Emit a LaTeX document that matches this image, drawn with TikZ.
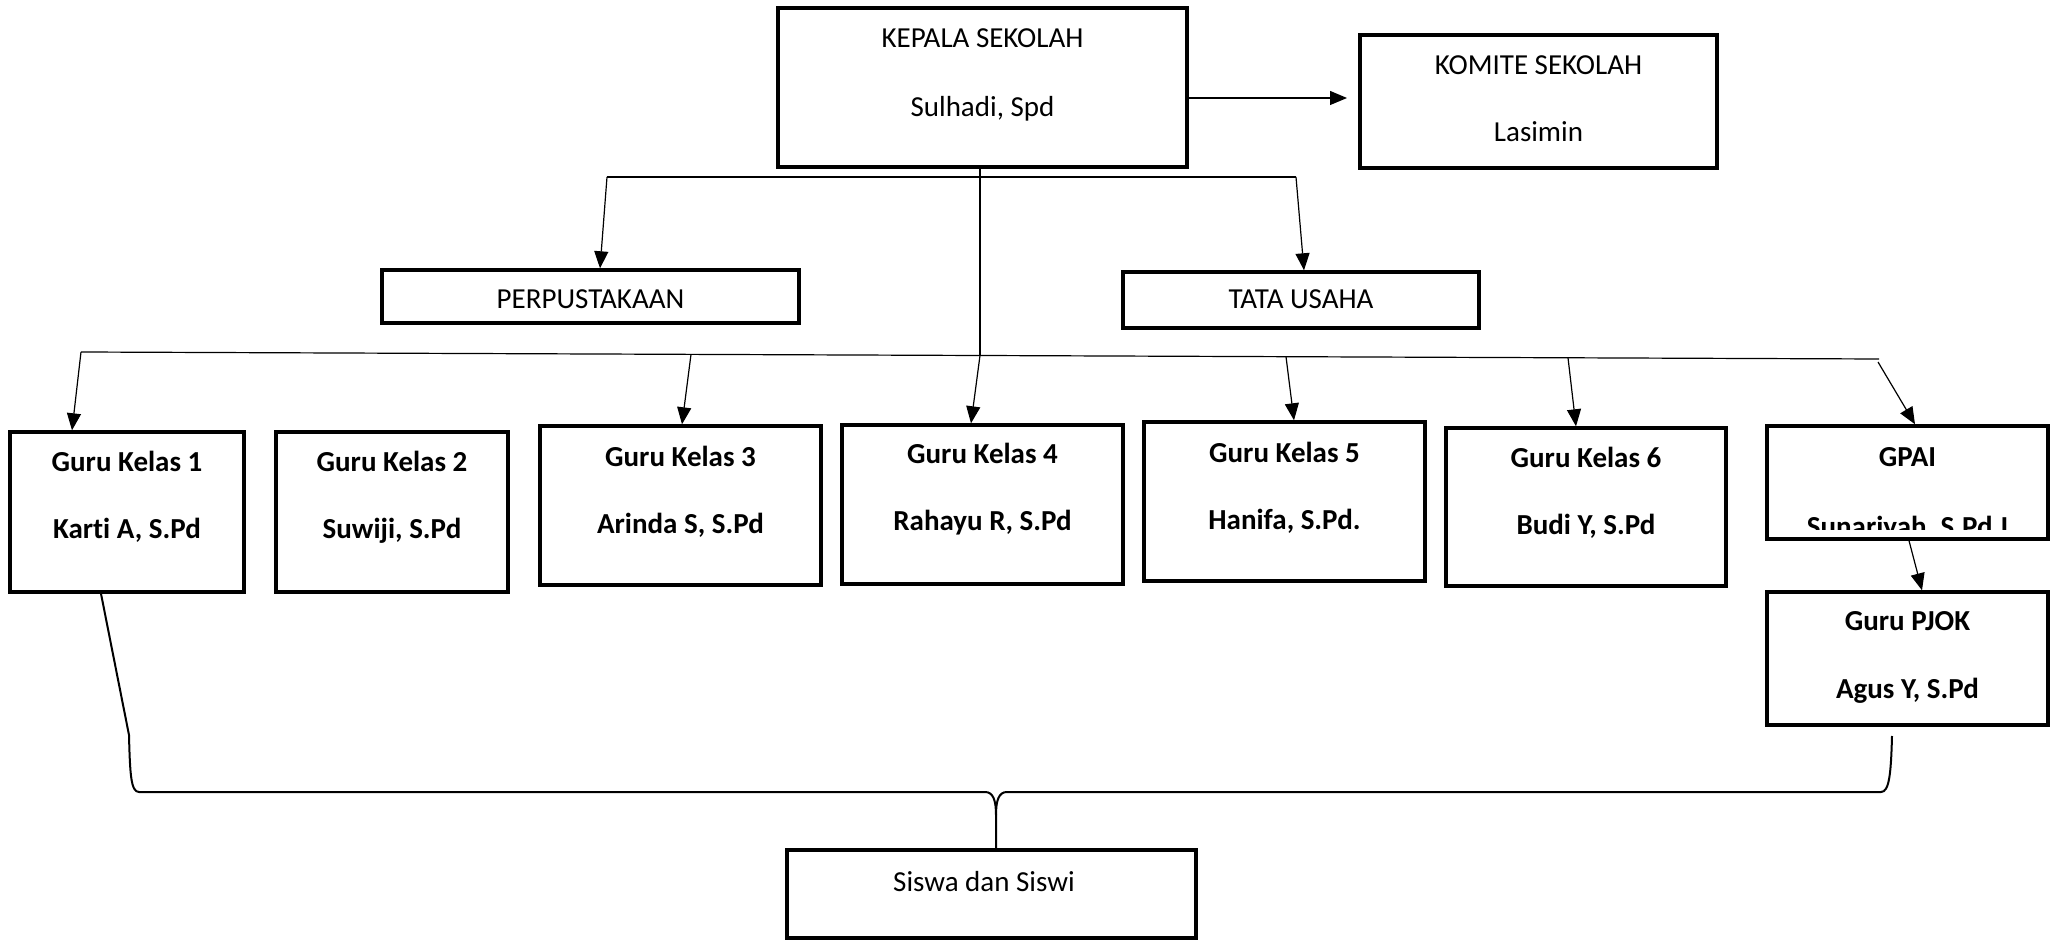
\documentclass[tikz,border=0pt]{standalone}
\usepackage{fontspec}
\setmainfont[Ligatures=NoCommon]{Carlito}
\usetikzlibrary{arrows.meta}
\begin{document}
\begin{tikzpicture}[x=0.5pt,y=-0.5pt,
  box/.style={draw, line width=1.7pt, inner sep=0pt, rectangle},
  lbl/.style={anchor=base, inner sep=0pt, font=\fontsize{14.5}{17}\selectfont},
  blbl/.style={anchor=base, inner sep=0pt, font=\fontsize{14.5}{17}\selectfont\bfseries},
  link/.style={line width=0.6pt},
  arr/.style={link, -{Triangle[length=8.5pt,width=7pt]}},
  brace/.style={line width=1pt, line join=round},
]
\useasboundingbox (0,0) rectangle (2057,940);

% ---- boxes ----
\node[box, minimum width=204.5pt, minimum height=79.5pt] (kepala) at (982.5,87.5) {};
\node[box, minimum width=178.5pt, minimum height=66.5pt] (komite) at (1538.5,101.5) {};
\node[box, minimum width=208.5pt, minimum height=26.5pt] (perpus) at (590.5,296.5) {};
\node[box, minimum width=178pt, minimum height=28pt] (tu) at (1301,300) {};
\node[box, minimum width=117pt, minimum height=80pt] (gk1) at (127,512) {};
\node[box, minimum width=116pt, minimum height=80pt] (gk2) at (392,512) {};
\node[box, minimum width=140.5pt, minimum height=79.5pt] (gk3) at (680.5,505.5) {};
\node[box, minimum width=140.5pt, minimum height=79.5pt] (gk4) at (982.5,504.5) {};
\node[box, minimum width=140.5pt, minimum height=79.5pt] (gk5) at (1284.5,501.5) {};
\node[box, minimum width=140pt, minimum height=79pt] (gk6) at (1586,507) {};
\node[box, minimum width=140.5pt, minimum height=56.5pt] (gpai) at (1907.5,482.5) {};
\node[box, minimum width=140.5pt, minimum height=66.5pt] (pjok) at (1907.5,658.5) {};
\node[box, minimum width=204.5pt, minimum height=44pt] (siswa) at (991.5,894) {};

% ---- labels ----
\node[lbl] (kepala-a) at (982.5,48) {KEPALA SEKOLAH};
\node[lbl] (kepala-b) at (982.5,117) {Sulhadi, Spd};
\node[lbl] (komite-a) at (1538.5,75) {KOMITE SEKOLAH};
\node[lbl] (komite-b) at (1538.5,142) {Lasimin};
\node[lbl] (perpus-a) at (590.5,309) {PERPUSTAKAAN};
\node[lbl] (tu-a) at (1301,309) {TATA USAHA};
\node[blbl] (gk1-a) at (127,472) {Guru Kelas 1};
\node[blbl] (gk1-b) at (127,539) {Karti A, S.Pd};
\node[blbl] (gk2-a) at (392,472) {Guru Kelas 2};
\node[blbl] (gk2-b) at (392,539) {Suwiji, S.Pd};
\node[blbl] (gk3-a) at (680.5,467) {Guru Kelas 3};
\node[blbl] (gk3-b) at (680.5,534) {Arinda S, S.Pd};
\node[blbl] (gk4-a) at (982.5,464) {Guru Kelas 4};
\node[blbl] (gk4-b) at (982.5,531) {Rahayu R, S.Pd};
\node[blbl] (gk5-a) at (1284.5,463) {Guru Kelas 5};
\node[blbl] (gk5-b) at (1284.5,530) {Hanifa, S.Pd.};
\node[blbl] (gk6-a) at (1586,468) {Guru Kelas 6};
\node[blbl] (gk6-b) at (1586,535) {Budi Y, S.Pd};
\node[blbl] (gpai-a) at (1907.5,467) {GPAI};
\begin{scope}
  \clip (1767,426) rectangle (2048,530);
  \node[blbl] (gpai-b) at (1907.5,537) {Sunariyah, S.Pd.I};
\end{scope}
\node[blbl] (pjok-a) at (1907.5,631) {Guru PJOK};
\node[blbl] (pjok-b) at (1907.5,698) {Agus Y, S.Pd};
\node[lbl] (siswa-a) at (984,891) {Siswa dan Siswi};

% ---- connectors ----
\coordinate (k98) at (0,98);
\coordinate (kmEnd) at (1347,98);
\draw[arr] (kepala.east |- k98) -- (kmEnd);

% staff branch
\coordinate (tl) at (607,177);
\coordinate (tr) at (1296,177);
\draw[link] (tl) -- (tr);
\draw[arr] (tl) -- ([xshift=4.75pt]perpus.north);
\draw[arr] (tr) -- ([xshift=1.5pt]tu.north);

% trunk and teachers bar
\coordinate (bl) at (81,352);
\coordinate (br) at (1879,359);
\coordinate (b3) at (691,354.4);
\coordinate (b4) at (980,355.5);
\coordinate (b5) at (1286,356.7);
\coordinate (b6) at (1568,357.8);
\coordinate (bg) at (1878,362);
\draw[link] (kepala.south -| b4) -- (b4);
\draw[link] (bl) -- (br);
\draw[arr] (bl) -- ([xshift=-27.5pt]gk1.north);
\draw[arr] (b3) -- ([xshift=0.75pt]gk3.north);
\draw[arr] (b4) -- ([xshift=-5.75pt]gk4.north);
\draw[arr] (b5) -- ([xshift=4.75pt]gk5.north);
\draw[arr] (b6) -- ([xshift=-5pt]gk6.north);
\draw[arr] (bg) -- ([xshift=3.75pt]gpai.north);
\draw[arr] ([xshift=0.75pt]gpai.south) -- ([xshift=7.25pt]pjok.north);

% brace gathering the teachers onto the pupils
\coordinate (lt) at (101,592);
\coordinate (rt) at (1892,736);
\coordinate (mid) at (996,815);
\draw[brace] (gk1.south -| lt) -- (129,735)
  .. controls (130,775) and (131,792) .. (139,792) -- (985,792)
  .. controls (993,792) and (996,800) .. (mid) -- (siswa.north -| mid);
\draw[brace] (rt) .. controls (1891,775) and (1889,792) .. (1881,792) -- (1007,792)
  .. controls (999,792) and (996,800) .. (mid);
\end{tikzpicture}
\end{document}
